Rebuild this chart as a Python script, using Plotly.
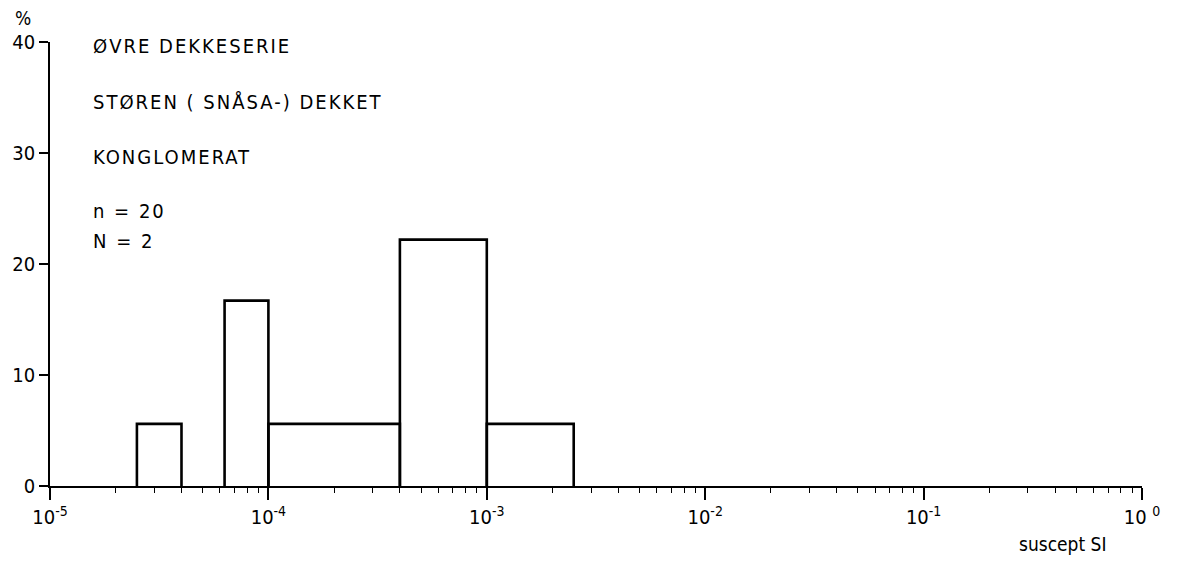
import plotly.graph_objects as go

# Histogram bins (susceptibility, SI) and percentages
bin_left = [2.5e-5, 6.3e-5, 1.0e-4, 4.0e-4, 1.0e-3]
bin_right = [4.0e-5, 1.0e-4, 4.0e-4, 1.0e-3, 2.5e-3]
percent = [5.6, 16.7, 5.6, 22.2, 5.6]

x_tickvals = [1e-5, 1e-4, 1e-3, 1e-2, 1e-1, 1e0]
x_ticktext = ["10<sup>-5</sup>", "10<sup>-4</sup>", "10<sup>-3</sup>",
              "10<sup>-2</sup>", "10<sup>-1</sup>", "10 <sup>0</sup>"]
y_tickvals = [0, 10, 20, 30, 40]

info_lines = ["ØVRE DEKKESERIE", "STØREN ( SNÅSA-) DEKKET", "KONGLOMERAT", "n = 20", "N = 2"]
info_y = [39.6, 34.6, 29.6, 24.8, 22.1]

FONT = "Liberation Sans Narrow, DejaVu Sans Condensed, DejaVu Sans"

fig = go.Figure()
for l, r, p in zip(bin_left, bin_right, percent):
    fig.add_trace(go.Scatter(
        x=[l, l, r, r], y=[0, p, p, 0],
        mode="lines", line=dict(color="black", width=2.6),
        showlegend=False, hoverinfo="skip"))

for t, yy in zip(info_lines, info_y):
    fig.add_annotation(x=0.038, xref="paper", y=yy, yref="y",
                       text='<span style="letter-spacing:2px">' + t + '</span>',
                       showarrow=False, xanchor="left", yanchor="middle",
                       font=dict(family=FONT, size=20, color="black"))

fig.add_annotation(x=-0.025, xref="paper", y=1.0, yref="paper", yshift=24, text="%",
                   showarrow=False, xanchor="center", yanchor="middle",
                   font=dict(family=FONT, size=19, color="black"))
fig.add_annotation(x=0.969, xref="paper", y=0, yref="paper", yshift=-58, text="suscept SI",
                   showarrow=False, xanchor="right", yanchor="middle",
                   font=dict(family=FONT, size=19, color="black"))

fig.update_xaxes(type="log", range=[-5, 0], tickvals=x_tickvals, ticktext=x_ticktext,
                 ticks="outside", ticklen=12, tickwidth=1.5, tickcolor="black",
                 showline=True, linecolor="black", linewidth=1.8,
                 showgrid=False, zeroline=False,
                 minor=dict(dtick="D1", ticks="outside", ticklen=5, tickwidth=1, tickcolor="black", showgrid=False),
                 tickfont=dict(family=FONT, size=20, color="black"))
fig.update_yaxes(range=[0, 40], tickvals=y_tickvals, ticks="outside", ticklen=9,
                 tickwidth=1.5, tickcolor="black",
                 showline=True, linecolor="black", linewidth=1.8,
                 showgrid=False, zeroline=False,
                 tickfont=dict(family=FONT, size=20, color="black"))

fig.update_layout(width=1186, height=564, margin=dict(l=50, r=44, t=42, b=78),
                  plot_bgcolor="white", paper_bgcolor="white",
                  font=dict(family=FONT, size=20, color="black"))

fig.write_html("out.html")
